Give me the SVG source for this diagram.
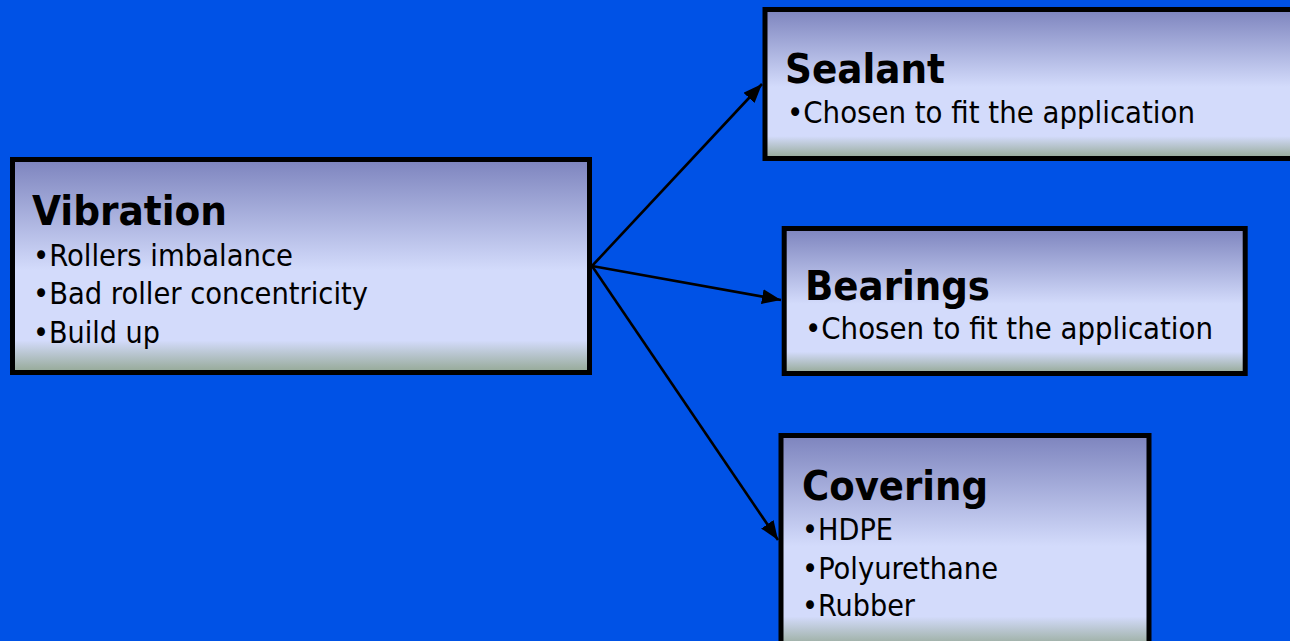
<svg xmlns="http://www.w3.org/2000/svg" width="1290" height="641" viewBox="0 0 1290 641">
  <style>
    .box { fill: url(#boxGrad); stroke: #000000; stroke-width: 5; }
    .head { font-family: "DejaVu Sans Condensed", "DejaVu Sans", "Liberation Sans", sans-serif; font-weight: bold; font-size: 41px; fill: #000000; }
    .body { font-family: "DejaVu Sans Condensed", "DejaVu Sans", "Liberation Sans", sans-serif; font-size: 30px; fill: #000000; }
    .conn { stroke: #000000; stroke-width: 2.6; fill: none; marker-end: url(#arrow); }
  </style>
  <defs>
    <linearGradient id="boxGrad" x1="0" y1="0" x2="0" y2="1">
      <stop offset="0" stop-color="#7d84be"/>
      <stop offset="0.52" stop-color="#d3dbfb"/>
      <stop offset="0.85" stop-color="#d3dbfb"/>
      <stop offset="1" stop-color="#94a894"/>
    </linearGradient>
    <marker id="arrow" markerUnits="userSpaceOnUse" markerWidth="20" markerHeight="16" refX="19" refY="7.5" orient="auto">
      <path d="M0,0 L19,7.5 L0,15 z" fill="#000000"/>
    </marker>
  </defs>
  <rect x="0" y="0" width="1290" height="641" fill="#0052e6"/>

  <g id="connectors">
    <line class="conn" x1="592" y1="266" x2="762" y2="84"/>
    <line class="conn" x1="592" y1="266" x2="781" y2="300"/>
    <line class="conn" x1="592" y1="266" x2="778" y2="540"/>
  </g>

  <g id="vibration">
    <rect class="box" x="12.5" y="159.5" width="577" height="213"/>
    <text class="head" x="32" y="225" textLength="195" lengthAdjust="spacingAndGlyphs">Vibration</text>
    <text class="body" x="33" y="265.5" textLength="260" lengthAdjust="spacingAndGlyphs">•Rollers imbalance</text>
    <text class="body" x="33" y="304" textLength="335" lengthAdjust="spacingAndGlyphs">•Bad roller concentricity</text>
    <text class="body" x="33" y="342.5" textLength="127" lengthAdjust="spacingAndGlyphs">•Build up</text>
  </g>

  <g id="sealant">
    <rect class="box" x="765" y="9.5" width="560" height="149"/>
    <text class="head" x="785" y="82.5" textLength="160" lengthAdjust="spacingAndGlyphs">Sealant</text>
    <text class="body" x="787" y="123" textLength="408" lengthAdjust="spacingAndGlyphs">•Chosen to fit the application</text>
  </g>

  <g id="bearings">
    <rect class="box" x="784.2" y="228.5" width="461" height="145"/>
    <text class="head" x="805" y="300" textLength="185" lengthAdjust="spacingAndGlyphs">Bearings</text>
    <text class="body" x="805" y="338.5" textLength="408" lengthAdjust="spacingAndGlyphs">•Chosen to fit the application</text>
  </g>

  <g id="covering">
    <rect class="box" x="781" y="435.5" width="368" height="213"/>
    <text class="head" x="802" y="500" textLength="186" lengthAdjust="spacingAndGlyphs">Covering</text>
    <text class="body" x="802" y="540" textLength="91" lengthAdjust="spacingAndGlyphs">•HDPE</text>
    <text class="body" x="802" y="578.5" textLength="196" lengthAdjust="spacingAndGlyphs">•Polyurethane</text>
    <text class="body" x="802" y="616" textLength="113" lengthAdjust="spacingAndGlyphs">•Rubber</text>
  </g>
</svg>
